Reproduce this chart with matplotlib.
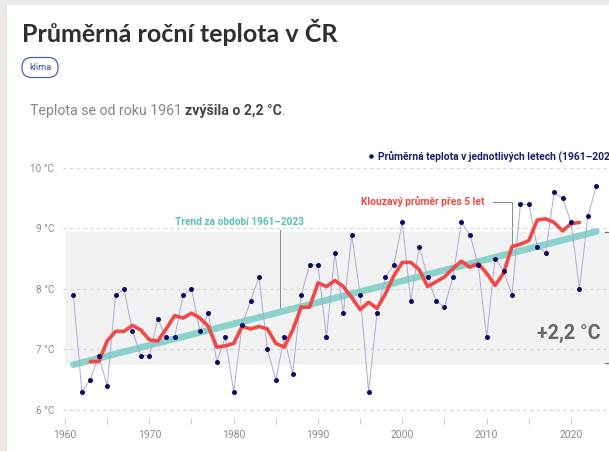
import matplotlib
matplotlib.use("Agg")
import matplotlib.pyplot as plt
from matplotlib.patches import Rectangle, FancyBboxPatch
from matplotlib.transforms import IdentityTransform

# yearly mean temperature in CZ (°C)
years = list(range(1961, 2024))
temps = [7.9, 6.3, 6.5, 6.9, 6.4, 7.9, 8.0, 7.3, 6.9, 6.9,
         7.5, 7.2, 7.2, 7.9, 8.0, 7.3, 7.6, 6.8, 7.2, 6.3,
         7.4, 7.8, 8.2, 7.0, 6.5, 7.2, 6.6, 7.9, 8.4, 8.4,
         7.2, 8.6, 7.6, 8.9, 7.9, 6.3, 7.6, 8.2, 8.4, 9.1,
         7.8, 8.7, 8.2, 7.8, 7.7, 8.2, 9.1, 8.9, 8.4, 7.2,
         8.5, 8.3, 7.9, 9.4, 9.4, 8.7, 8.6, 9.6, 9.5, 9.1,
         8.0, 9.2, 9.7]

# 5-year moving average (centered)
ma_years = list(range(1963, 2022))
ma_temps = [6.80, 6.80, 7.14, 7.30, 7.30, 7.40, 7.32, 7.16, 7.14, 7.34,
            7.56, 7.52, 7.60, 7.52, 7.38, 7.04, 7.06, 7.10, 7.38, 7.34,
            7.38, 7.34, 7.10, 7.04, 7.32, 7.70, 7.70, 8.10, 8.04, 8.14,
            8.04, 7.86, 7.66, 7.78, 7.68, 7.92, 8.22, 8.44, 8.44, 8.32,
            8.04, 8.12, 8.20, 8.34, 8.46, 8.36, 8.42, 8.26, 8.06, 8.26,
            8.70, 8.74, 8.80, 9.14, 9.16, 9.10, 8.96, 9.08, 9.10]

trend_years = [1961, 2023]
trend_temps = [6.75, 8.95]

y_ticks = [6, 7, 8, 9, 10]
y_labels = ["6 °C", "7 °C", "8 °C", "9 °C", "10 °C"]
x_ticks = list(range(1960, 2025, 5))
x_labels = [str(y) if y % 10 == 0 else "" for y in x_ticks]

W, H = 609, 451
fig = plt.figure(figsize=(W / 100, H / 100), dpi=100)
fig.patch.set_facecolor("#ebe8e5")
fig.patches.append(Rectangle((7 / W, 0), 1, 1 - 5 / H, transform=fig.transFigure,
                             facecolor="white", edgecolor="none", zorder=-5))


def fpos(x, y):
    return x / W, 1 - y / H


def fit_size(s, target, family, weight, base=10):
    r = fig.canvas.get_renderer()
    t = fig.text(0, 0, s, fontsize=base, family=family, weight=weight)
    w = t.get_window_extent(r).width
    t.remove()
    return base * target / w


# axes placement: 1960 -> x 65px, 2020 -> 571px, 10 °C -> y 168px, 6 °C -> 410px
kx = (571 - 65) / 60
ky = (410 - 168) / 4
left_px, right_px, top_px, bot_px = 62.5, 630, 156, 423.5
ax = fig.add_axes([left_px / W, 1 - bot_px / H, (right_px - left_px) / W, (bot_px - top_px) / H])
ax.patch.set_alpha(0)
ax.set_xlim(1960 + (left_px - 65) / kx, 1960 + (right_px - 65) / kx)
ax.set_ylim(10 - (bot_px - 168) / ky, 10 + (168 - top_px) / ky)
for s in ax.spines.values():
    s.set_visible(False)

ax.fill_between([1960, 2030], trend_temps[0], trend_temps[1], color="#f2f2f2", zorder=0, lw=0)

ax.set_yticks(y_ticks)
ax.set_yticklabels(y_labels, family="Roboto", fontsize=7.2, color="#8a8a8a")
ax.yaxis.grid(True, color="#d4d4d4", linestyle=(0, (3, 3)), lw=0.8, zorder=1)
ax.tick_params(axis="y", length=0, pad=6)
ax.set_xticks(x_ticks)
ax.set_xticklabels(x_labels, family="Roboto", fontsize=7.5, color="#8a8a8a")
ax.tick_params(axis="x", direction="in", length=4, width=0.8, color="#cfcfcf", pad=5)

ax.plot(trend_years, trend_temps, color="#8ad2ca", lw=4.8, solid_capstyle="round", zorder=2)
ax.plot(years, temps, color="#aaaad6", lw=0.7, zorder=3)
ax.plot(ma_years, ma_temps, color="#f04848", lw=2.6, solid_capstyle="round",
        solid_joinstyle="round", zorder=4)
ax.plot(years, temps, "o", color="#0b0b64", ms=3.6, mew=0, zorder=5)

# annotations
gray = "#8a8a8a"
ax.plot([1985.45, 1985.45], [7.63, 8.98], color=gray, lw=0.7, zorder=1.5)
fs = fit_size("Trend za období 1961–2023", 129, "Roboto", "bold")
ax.text(1988.35, 9.11, "Trend za období 1961–2023", ha="right", va="center",
        family="Roboto", weight="bold", fontsize=fs, color="#55c0b6")

ax.plot([2010.75, 2013, 2013], [9.44, 9.44, 8.72], color=gray, lw=0.7, zorder=1.5)
fs = fit_size("Klouzavý průměr přes 5 let", 123, "Roboto", "bold")
ax.text(2009.8, 9.44, "Klouzavý průměr přes 5 let", ha="right", va="center",
        family="Roboto", weight="bold", fontsize=fs, color="#f04848")

fs = fit_size("+2,2 °C", 64, "Roboto", "bold")
ax.text(2023.56, 7.26, "+2,2 °C", ha="right", va="center",
        family="Roboto", weight="bold", fontsize=fs, color="#666666")
ax.plot([2024.0, 2026], [trend_temps[1], trend_temps[1]], color="#777777", lw=0.9, clip_on=False)
ax.plot([2024.0, 2026], [trend_temps[0] + 0.03, trend_temps[0] + 0.03], color="#777777", lw=0.9, clip_on=False)

# legend (cut off by the right edge, as in the source screenshot)
ax.plot([1996.3], [10.2], "o", color="#0b0b64", ms=3.2, mew=0, clip_on=False)
fs = fit_size("Průměrná teplota v jednotlivých letech (1961–202", 231, "Roboto", "bold")
ax.text(1997.1, 10.2, "Průměrná teplota v jednotlivých letech (1961–2023)", ha="left", va="center",
        family="Roboto", weight="bold", fontsize=fs, color="#1c1c6e", clip_on=False)

# header
fs = fit_size("Průměrná roční teplota v ČR", 316, "Lato", "bold")
fig.text(*fpos(22, 42), "Průměrná roční teplota v ČR", ha="left", va="baseline",
         family="Lato", weight="bold", fontsize=fs, color="#2d2d33")

pill = FancyBboxPatch((22, H - 77.5), 36, 20, transform=IdentityTransform(),
                      boxstyle="round,pad=0,rounding_size=9.5", facecolor="white",
                      edgecolor="#4a5ea6", lw=0.9)
fig.patches.append(pill)
fs = fit_size("klima", 22, "Roboto", "normal")
fig.text(*fpos(40, 67.5), "klima", ha="center", va="center", family="Roboto",
         fontsize=fs, color="#3b4a8a")

parts = [("Teplota se od roku 1961 ", "normal", "#858585"),
         ("zvýšila o 2,2 °C", "bold", "#444444"),
         (".", "normal", "#858585")]
fs = fit_size("Teplota se od roku 1961 zvýšila o 2,2 °C.", 253, "Roboto", "normal")
r = fig.canvas.get_renderer()
x = 30
for s, wgt, col in parts:
    t = fig.text(*fpos(x, 115), s, ha="left", va="baseline", family="Roboto",
                 weight=wgt, fontsize=fs, color=col)
    x += t.get_window_extent(r).width

fig.savefig("out.png", dpi=100)
